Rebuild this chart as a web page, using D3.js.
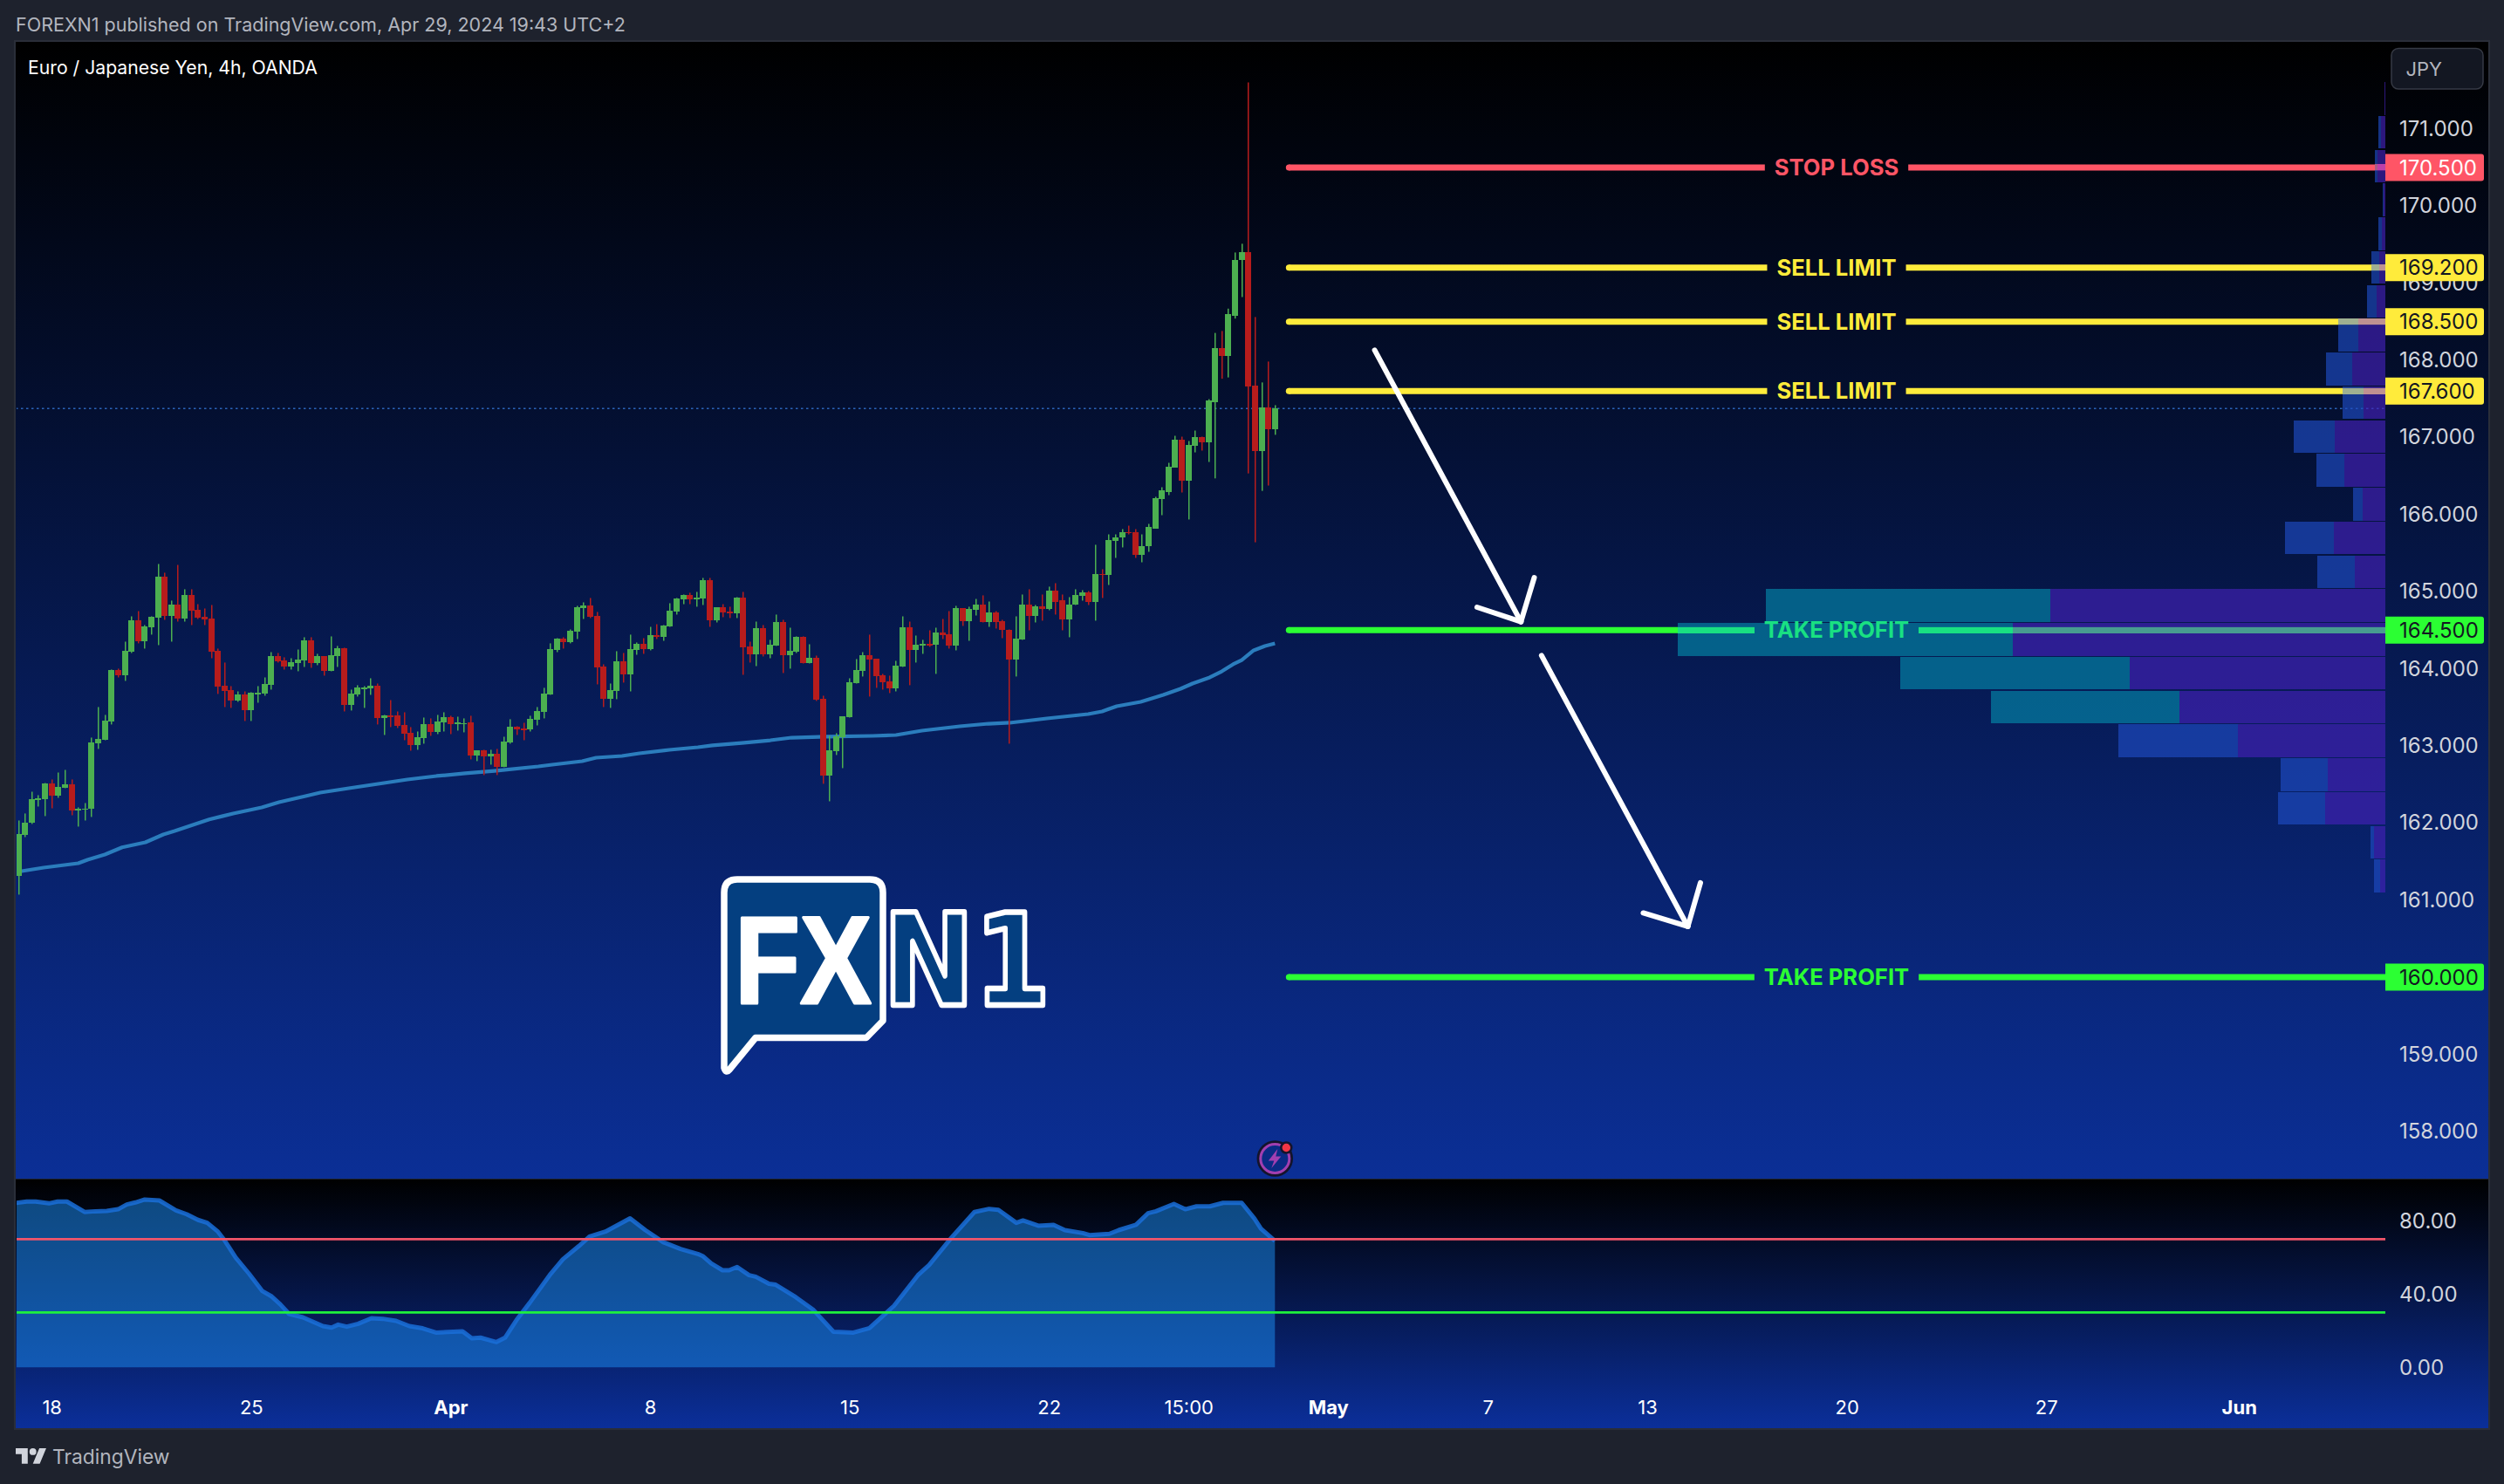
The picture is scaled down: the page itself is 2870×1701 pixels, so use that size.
<!DOCTYPE html>
<html><head><meta charset="utf-8">
<script src="https://cdn.jsdelivr.net/npm/d3@7/dist/d3.min.js"></script>
<style>html,body{margin:0;padding:0;background:#1e222d}svg{display:block}text{font-family:Inter,"Noto Sans",sans-serif}</style>
</head><body><svg id="c" width="2870" height="1701"></svg>
<script>
const opens=[161.312,161.840,161.998,162.307,162.304,162.507,162.349,162.451,162.496,162.157,
162.168,162.180,163.028,163.073,163.311,163.978,163.910,164.215,164.623,164.351,
164.532,164.657,165.199,164.679,164.837,164.645,164.951,164.758,164.668,164.645,
164.227,163.774,163.718,163.582,163.661,163.458,163.673,163.673,163.786,164.159,
164.102,164.023,164.068,164.102,164.362,164.068,164.159,163.967,164.159,164.261,
163.526,163.661,163.740,163.740,163.774,163.356,163.390,163.390,163.265,163.164,
163.005,163.096,163.277,163.175,163.299,163.367,163.277,163.288,163.299,162.870,
162.937,162.858,162.892,162.723,163.039,163.243,163.220,163.209,163.333,163.435,
163.661,164.238,164.385,164.340,164.476,164.781,164.815,164.679,164.023,163.605,
163.706,164.091,163.921,164.238,164.317,164.249,164.430,164.408,164.543,164.736,
164.894,164.951,164.905,164.905,165.143,164.623,164.792,164.736,164.713,164.917,
164.283,164.181,164.521,164.181,164.295,164.600,164.170,164.215,164.408,164.068,
164.136,163.605,162.609,162.926,163.107,163.367,163.808,163.967,164.170,164.125,
163.910,163.831,163.740,164.023,164.532,164.238,164.295,164.317,164.306,164.464,
164.442,164.295,164.781,164.611,164.758,164.826,164.600,164.724,164.611,164.509,
164.114,164.374,164.826,164.679,164.804,164.770,165.018,164.883,164.634,164.826,
164.939,164.985,164.871,165.233,165.211,165.652,165.697,165.776,165.765,165.471,
165.584,165.821,166.195,166.296,166.613,166.975,166.443,166.885,167.009,166.941,
167.461,168.152,168.051,168.581,169.296,169.397,167.676,166.827,167.393,167.110];
const closes=[161.851,162.009,162.304,162.315,162.507,162.349,162.462,162.496,162.157,162.179,
162.190,163.039,163.084,163.322,163.978,163.910,164.227,164.623,164.351,164.543,
164.668,165.199,164.679,164.837,164.645,164.951,164.747,164.657,164.634,164.215,
163.763,163.706,163.582,163.661,163.458,163.684,163.684,163.797,164.159,164.091,
164.023,164.080,164.114,164.362,164.068,164.159,163.967,164.170,164.261,163.526,
163.673,163.752,163.752,163.774,163.356,163.390,163.378,163.254,163.152,163.005,
163.107,163.277,163.175,163.311,163.367,163.277,163.299,163.296,162.870,162.937,
162.858,162.892,162.723,163.050,163.243,163.209,163.209,163.345,163.446,163.673,
164.249,164.385,164.340,164.487,164.792,164.815,164.668,164.012,163.605,163.718,
164.091,163.921,164.249,164.317,164.249,164.430,164.419,164.555,164.747,164.905,
164.951,164.894,164.917,165.143,164.623,164.792,164.724,164.724,164.917,164.272,
164.181,164.521,164.181,164.306,164.600,164.170,164.227,164.408,164.068,164.136,
163.593,162.609,162.937,163.118,163.378,163.820,163.978,164.170,164.114,163.899,
163.820,163.740,164.034,164.532,164.238,164.306,164.317,164.306,164.464,164.430,
164.295,164.781,164.611,164.770,164.826,164.600,164.724,164.600,164.498,164.114,
164.385,164.826,164.679,164.804,164.770,165.018,164.871,164.634,164.837,164.951,
164.985,164.871,165.233,165.211,165.663,165.708,165.776,165.754,165.471,165.595,
165.833,166.206,166.308,166.624,166.975,166.443,166.896,167.009,166.941,167.473,
168.152,168.051,168.593,169.304,169.397,167.663,166.827,167.393,167.110,167.373];
const highs=[162.032,162.123,162.405,162.360,162.518,162.564,162.654,162.688,162.564,162.202,
162.258,163.107,163.503,163.401,163.989,164.001,164.351,164.679,164.747,164.566,
164.679,165.358,165.245,164.883,165.346,165.030,165.030,164.837,164.781,164.826,
164.261,164.080,163.774,163.706,163.706,163.695,163.774,163.887,164.215,164.204,
164.148,164.136,164.249,164.408,164.408,164.193,164.159,164.419,164.295,164.272,
163.729,163.786,163.774,163.876,163.808,163.401,163.593,163.446,163.435,163.243,
163.186,163.367,163.356,163.401,163.435,163.390,163.378,163.356,163.390,162.937,
162.949,162.949,162.960,163.118,163.345,163.254,163.299,163.390,163.503,163.752,
164.329,164.396,164.408,164.509,164.815,164.860,164.917,164.736,164.057,163.808,
164.227,164.204,164.442,164.340,164.396,164.543,164.577,164.566,164.849,164.917,
164.962,164.985,164.996,165.177,165.177,164.792,164.837,164.804,164.928,164.996,
164.351,164.611,164.566,164.374,164.702,164.634,164.532,164.419,164.419,164.317,
164.170,163.650,163.130,163.164,163.378,163.876,164.125,164.215,164.442,164.125,
163.933,163.910,164.102,164.679,164.611,164.430,164.374,164.498,164.532,164.645,
164.747,164.815,164.781,164.804,164.905,164.951,164.871,164.747,164.634,164.509,
164.679,164.962,165.030,164.826,164.962,165.064,165.109,164.962,164.928,165.030,
165.018,165.007,165.607,165.290,165.742,165.742,165.810,165.855,165.810,165.742,
165.878,166.229,166.353,166.670,167.020,167.009,166.952,167.088,167.009,167.495,
168.354,168.379,168.669,169.397,169.510,171.602,168.560,167.712,167.983,167.417];
const lows=[161.071,161.817,161.987,162.213,162.089,162.190,162.326,162.451,162.100,161.953,
162.032,162.078,162.960,163.073,163.277,163.887,163.842,164.204,164.329,164.261,
164.442,164.306,164.634,164.351,164.611,164.611,164.566,164.645,164.566,164.136,
163.673,163.503,163.492,163.571,163.322,163.322,163.559,163.650,163.729,164.080,
163.989,163.989,163.967,164.023,164.012,164.046,163.910,163.967,164.023,163.446,
163.458,163.639,163.492,163.661,163.277,163.141,163.243,163.231,163.073,162.937,
162.949,163.028,163.130,163.152,163.186,163.152,163.198,163.175,162.824,162.802,
162.621,162.756,162.621,162.723,163.028,163.141,163.073,163.186,163.265,163.356,
163.661,164.215,164.261,164.329,164.385,164.645,164.657,163.797,163.503,163.492,
163.605,163.820,163.706,164.181,164.193,164.238,164.385,164.362,164.543,164.702,
164.837,164.837,164.804,164.826,164.543,164.600,164.668,164.657,164.657,163.921,
164.080,164.034,164.159,164.136,164.295,163.944,164.001,164.204,164.068,164.068,
163.582,162.508,162.281,162.881,162.711,163.367,163.808,163.899,163.639,163.752,
163.729,163.684,163.706,164.023,163.786,164.080,164.193,164.283,163.933,164.385,
164.261,164.238,164.555,164.362,164.690,164.600,164.543,164.521,164.396,163.028,
163.899,164.374,164.498,164.600,164.623,164.758,164.702,164.498,164.408,164.826,
164.883,164.826,164.623,164.917,165.086,165.437,165.573,165.742,165.437,165.380,
165.516,165.821,165.991,166.251,166.613,166.285,165.935,166.805,166.828,166.681,
166.468,167.760,167.777,168.540,168.819,166.532,165.639,166.306,166.375,167.033];
const emaBars=[-0.4,0.5,3.8,9,10.4,13,15.6,19.1,21.8,23.5,28.7,32.3,36.6,39.2,40.9,43.2,45.4,49.7,54.1,58.5,62.9,67.2,71.6,78.2,80.3,84.8,86.9,90.8,93.4,97.9,102.2,104.4,108.8,113.1,116.3,121.5,128.5,132,135.9,141.6,145.9,149.1,154.7,160.9,163,165.2,168.8,172.2,174.8,176.6,179.2,181,182.7,184,185.8,187.5,189];
const emaValues=[161.365,161.376,161.421,161.477,161.523,161.590,161.684,161.749,161.851,161.896,162.046,162.122,162.201,162.269,162.303,162.348,162.394,162.450,162.507,162.563,162.609,162.643,162.676,162.733,162.756,162.801,162.846,162.869,162.903,162.948,162.982,163.005,163.038,163.072,163.106,163.118,163.129,163.140,163.197,163.253,163.287,163.299,163.355,163.412,163.446,163.514,163.570,163.661,163.740,163.808,163.887,163.966,164.057,164.113,164.238,164.294,164.328];
const rsiBars=[-0.36,1.25,2.6,4.6,5.9,7.3,9.95,11.6,13.3,15,16.3,17.6,19,21.2,23.7,25.3,27,28.4,30,31,32.7,34.7,36.7,38.1,39.4,40.7,42.8,45.8,47.1,48.1,49.4,51.1,53.1,54.8,56.8,58.8,60.8,62.8,66.8,68.2,69.5,71.9,73.2,74.9,76.9,79.9,81.9,84.3,85.9,88.3,92,94.3,97,99.6,102.2,103,104.2,105.9,106.9,108.1,109.9,110.9,112.9,113.9,116.9,119.6,122.6,125.6,128,131.7,135.3,137,140.4,143.8,146,147.4,150.1,151.1,153.4,155.7,157.4,160.1,161.1,164.1,165.5,168.1,169.9,171.1,173.8,175.5,177.2,179.2,181.2,184,185.9,186.9,189];
const rsiValues=[89.7,90.5,90.5,89.5,90.5,90.5,84.8,85.2,85.4,86.3,88.9,90,91.6,91.1,85.7,83.6,80.5,78.9,74.1,69.4,59.8,51.1,41.6,38.7,34.4,29.2,27.3,22.5,21.7,23.3,22.2,23.8,26.8,26.5,25.4,22.5,21.3,19,19.7,15.9,16.2,13.8,16.2,25.7,35.2,50.3,59,66.2,71.4,74.1,81.3,74.9,68.3,64.6,61.9,60.6,56.7,53,53,54.8,50.3,49.5,45.6,45.1,38.4,31.3,19.4,19,21.4,33.6,50.3,55.9,71,84.8,86.5,86,78.9,80.2,77.3,77.8,74.9,73.3,72.2,72.9,74.9,77.8,84.1,85.2,89.2,86.3,87.9,87.9,89.8,89.8,81.3,75.7,69];
const volumeTotal=[1,8,12,3,8,16,21,54,68,49,105,79,37,115,78,710,811,556,452,306,120,123,17,13];
const volumeDown=[1,5,9,2,4,7,10,31,38,25,58,47,26,59,35,384,427,293,236,169,66,69,13,6];
const valueAreaRows=[15,16,17,18];
const volumeTopPrice=171.606, volumeRowStep=0.4383;
const levelPrices=[170.5,169.2,168.5,167.6,164.5,160];
const levelNames=["STOP LOSS","SELL LIMIT","SELL LIMIT","SELL LIMIT","TAKE PROFIT","TAKE PROFIT"];
const levelLabels=["170.500","169.200","168.500","167.600","164.500","160.000"];
const priceTicks=[171,170,169,168,167,166,165,164,163,162,161,160,159,158];
const rsiTicks=[80,40,0];
const rsiBands=[70,30];
const timeBars=[5,35,65,95,125,155,176,197,221,245,275,305,334];
const timeLabels=["18","25","Apr","8","15","22","15:00","May","7","13","20","27","Jun"];
const timeMajor=["Apr","May","Jun"];
const arrowBars=[[204,226],[226,219.4],[226,228],[229.1,251.1],[251.1,244.4],[251.1,253]];
const arrowPrices=[[168.125,164.604],[164.604,164.792],[164.604,165.176],[164.165,160.652],[160.652,160.827],[160.652,161.219]];
const levelStartBar=191.1;

const W=2870,H=1701,chartL=18,chartR=2852,chartT=48,paneB=1351,chartB=1637,axisX=2734;
const xBar=d3.scaleLinear().domain([0,189]).range([21.09,1461.3]);
const yPrice=d3.scaleLinear().domain([171,160]).range([147.7,1120.1]);
const yRsi=d3.scaleLinear().domain([0,100]).range([1567.3,1357.3]);
const xVol=d3.scaleLinear().domain([0,100]).range([0,100]);
const rows=volumeTotal.map((t,k)=>({k,t,d:volumeDown[k]}));
const svg=d3.select("#c"), defs=svg.append("defs");
function grad(id,y1,y2,stops){const g=defs.append("linearGradient").attr("id",id).attr("gradientUnits","userSpaceOnUse").attr("x1",0).attr("x2",0).attr("y1",y1).attr("y2",y2);stops.forEach(s=>g.append("stop").attr("offset",s[0]).attr("stop-color",s[1]));}
grad("mainBg",chartT,paneB,[[0,"#000000"],[1,"#0b2f96"]]);
grad("subBg",paneB,chartB,[[0,"#000000"],[1,"#0b2f9a"]]);
defs.append("clipPath").attr("id","plot").append("rect").attr("x",chartL+1).attr("y",chartT).attr("width",axisX-chartL-1).attr("height",paneB-chartT);
defs.append("clipPath").attr("id","plot2").append("rect").attr("x",chartL+1).attr("y",paneB).attr("width",axisX-chartL-1).attr("height",chartB-paneB);

svg.append("rect").attr("width",W).attr("height",H).attr("fill","#1e222d");
svg.append("text").attr("x",18).attr("y",36).attr("font-size",21.5).attr("fill","#b2b5be").text("FOREXN1 published on TradingView.com, Apr 29, 2024 19:43 UTC+2");
svg.append("rect").attr("x",chartL-1).attr("y",chartT-1).attr("width",chartR-chartL+2).attr("height",chartB-chartT+2).attr("fill","none").attr("stroke","#2a2e39").attr("stroke-width",2);
svg.append("rect").attr("x",chartL).attr("y",chartT).attr("width",chartR-chartL).attr("height",paneB-chartT).attr("fill","url(#mainBg)");
svg.append("rect").attr("x",chartL).attr("y",paneB).attr("width",chartR-chartL).attr("height",chartB-paneB).attr("fill","url(#subBg)");
svg.append("line").attr("x1",chartL).attr("x2",chartR).attr("y1",paneB+.5).attr("y2",paneB+.5).attr("stroke","#1e222d").attr("stroke-width",1);
svg.append("text").attr("x",32).attr("y",85).attr("font-size",21.2).attr("fill","#ffffff").text("Euro / Japanese Yen, 4h, OANDA");

const plot=svg.append("g").attr("clip-path","url(#plot)");
const lastClose=closes[closes.length-1];
plot.append("line").attr("x1",chartL).attr("x2",axisX).attr("y1",yPrice(lastClose)).attr("y2",yPrice(lastClose)).attr("stroke","#2b63b8").attr("stroke-width",1.5).attr("stroke-dasharray","2.5 3.5");
// EMA
plot.append("path").datum(emaBars.map((b,i)=>[b,emaValues[i]])).attr("fill","none").attr("stroke","#2b7dbd").attr("stroke-width",4.2).attr("stroke-linejoin","round")
  .attr("d",d3.line().x(d=>xBar(d[0])).y(d=>yPrice(d[1])));
// candles
const idx=d3.range(opens.length);
const col=i=>closes[i]>=opens[i]?"#4caf50":"#b71c1c";
plot.append("g").selectAll(".w").data(idx).join("rect").attr("class","w").attr("x",i=>Math.round(xBar(i)-.5)).attr("width",1.5).attr("y",i=>yPrice(highs[i])).attr("height",i=>yPrice(lows[i])-yPrice(highs[i])).attr("fill",col);
const cg=plot.append("g").attr("shape-rendering","crispEdges");
cg.selectAll(".b").data(idx).join("rect").attr("class","b").attr("x",i=>Math.round(xBar(i)-3.5)).attr("width",7)
  .attr("y",i=>yPrice(Math.max(opens[i],closes[i]))).attr("height",i=>Math.max(1.5,Math.abs(yPrice(opens[i])-yPrice(closes[i])))).attr("fill",col);

// level lines
const lineColor=["#ff5566","#ffeb3b","#ffeb3b","#ffeb3b","#2bff33","#2bff33"];
const textColor=["#ff5566","#ffeb3b","#ffeb3b","#ffeb3b","#19e082","#2bff33"];
const overBlue=["#a85a85","#9fb091","#9fb091","#9fb091","#19e082","#2bff33"];
const overPurple=["#bd3fa9","#bf9191","#bf9191","#bf9191","#479c90","#2bff33"];
const lineW=7,textCx=2105,gapPad=11,startX=xBar(levelStartBar);
const gaps=[];
const levelG=plot.append("g");
levelPrices.forEach((p,i)=>{
  const y=yPrice(p);
  const t=svg.append("text").attr("class","lvl").attr("x",textCx).attr("y",y+9).attr("text-anchor","middle").attr("font-size",25.6).attr("font-weight",700).attr("fill",textColor[i]).text(levelNames[i]);
  const w=t.node().getComputedTextLength();
  const gl=textCx-w/2-gapPad, gr=textCx+w/2+gapPad; gaps.push([gl,gr]);
  levelG.append("line").attr("x1",startX).attr("x2",startX).attr("y1",y).attr("y2",y).attr("stroke",lineColor[i]).attr("stroke-width",lineW).attr("stroke-linecap","round");
  levelG.append("line").attr("x1",startX).attr("x2",gl).attr("y1",y).attr("y2",y).attr("stroke",lineColor[i]).attr("stroke-width",lineW);
  levelG.append("line").attr("x1",gr).attr("x2",axisX).attr("y1",y).attr("y2",y).attr("stroke",lineColor[i]).attr("stroke-width",lineW);
});
// volume profile
const rowTop=k=>yPrice(volumeTopPrice-k*volumeRowStep);
const isVA=k=>valueAreaRows.includes(k);
const vg=plot.append("g").attr("shape-rendering","crispEdges");
vg.selectAll(".vt").data(rows).join("rect").attr("x",d=>axisX-xVol(d.t)).attr("width",d=>xVol(d.t-d.d)).attr("y",d=>rowTop(d.k)).attr("height",d=>rowTop(d.k+1)-rowTop(d.k)-1.2)
  .attr("fill",d=>isVA(d.k)?"rgb(4,133,167)":"rgb(30,75,193)").attr("fill-opacity",.67);
vg.selectAll(".vd").data(rows).join("rect").attr("x",d=>axisX-xVol(d.d)).attr("width",d=>xVol(d.d)).attr("y",d=>rowTop(d.k)).attr("height",d=>rowTop(d.k+1)-rowTop(d.k)-1.2)
  .attr("fill","rgb(66,33,180)").attr("fill-opacity",.67);
// level lines seen through the profile
levelPrices.forEach((p,i)=>{
  const k=Math.floor((volumeTopPrice-p)/volumeRowStep); if(k<0||k>=rows.length) return;
  const r=rows[k], y=yPrice(p), top=Math.max(y-lineW/2,rowTop(k)), bot=Math.min(y+lineW/2,rowTop(k+1)-1.2);
  const split=axisX-xVol(r.d), left=axisX-xVol(r.t);
  [[left,split,overBlue[i]],[split,axisX,overPurple[i]]].forEach(seg=>{
    [[startX,gaps[i][0]],[gaps[i][1],axisX]].forEach(part=>{
      const a=Math.max(seg[0],part[0]), b=Math.min(seg[1],part[1]);
      if(b>a) vg.append("rect").attr("x",a).attr("width",b-a).attr("y",top).attr("height",bot-top).attr("fill",seg[2]);
    });
  });
});
svg.selectAll("text.lvl").raise();
// arrows
plot.append("g").selectAll("line").data(arrowBars.map((b,i)=>({b,p:arrowPrices[i]}))).join("line")
  .attr("x1",d=>xBar(d.b[0])).attr("x2",d=>xBar(d.b[1])).attr("y1",d=>yPrice(d.p[0])-.5).attr("y2",d=>yPrice(d.p[1])-.5)
  .attr("stroke","#ffffff").attr("stroke-width",6).attr("stroke-linecap","round");

// price axis
const fontAxis=24;
const pa=svg.append("g").attr("transform",`translate(${axisX},0)`).call(d3.axisRight(yPrice).tickValues(priceTicks).tickSize(0).tickPadding(16).tickFormat(d3.format(".3f")));
pa.select(".domain").remove();
pa.selectAll("text").style("font-family","Inter").attr("font-size",fontAxis).attr("fill","#d1d4dc");
const labelTxt=["#ffffff","#131722","#131722","#131722","#131722","#131722"];
const lb=svg.append("g").selectAll("g").data(levelPrices).join("g").attr("transform",d=>`translate(${axisX},${yPrice(d)})`);
lb.append("path").attr("d","M0,-15.5H110a3,3 0 0 1 3,3V12.5a3,3 0 0 1 -3,3H0Z").attr("fill",(d,i)=>lineColor[i]);
lb.append("text").attr("x",16).attr("y",8.6).attr("font-size",fontAxis).attr("fill",(d,i)=>labelTxt[i]).text((d,i)=>levelLabels[i]);
// JPY button
svg.append("rect").attr("x",2741).attr("y",55.5).attr("width",105).attr("height",46.5).attr("rx",8).attr("fill","#131722").attr("stroke","#363a45").attr("stroke-width",1.5);
svg.append("text").attr("x",2757.5).attr("y",87).attr("font-size",22).attr("fill","#b2b5be").text("JPY");

// logo
const logo=svg.append("g");
logo.append("path").attr("d","M845,1008H997Q1012,1008 1012,1023V1170L993,1189.5H866L836,1226Q832,1231 830,1224V1023Q830,1008 845,1008Z").attr("fill","#043f80").attr("stroke","#ffffff").attr("stroke-width",7.5).attr("stroke-linejoin","round");
logo.append("text").attr("x",842).attr("y",1150).style("font-family","Liberation Sans").attr("font-weight",700).attr("font-size",142).attr("fill","#ffffff").attr("stroke","#ffffff").attr("stroke-width",3).attr("stroke-linejoin","round").attr("textLength",157).attr("lengthAdjust","spacingAndGlyphs").text("FX");
logo.append("text").attr("x",1012).attr("y",1151.7).style("font-family","DejaVu Sans").attr("font-weight",700).attr("font-size",146).attr("fill","#043f80").attr("stroke","#ffffff").attr("stroke-width",6.5).attr("stroke-linejoin","round").attr("textLength",192).attr("lengthAdjust","spacingAndGlyphs").text("N1");

// event icon
const ic=svg.append("g").attr("transform",`translate(${xBar(189)},1328)`);
ic.append("circle").attr("r",19).attr("fill","none").attr("stroke","#14142c").attr("stroke-width",3.5);
ic.append("circle").attr("r",16.5).attr("fill","#0b2a85").attr("stroke","#a13fb0").attr("stroke-width",3);
ic.append("path").attr("d","M3,-11L-7.5,2.5H-1L-4,11L7,-2.5H1Z").attr("fill","#a13fb0");
ic.append("circle").attr("cx",13).attr("cy",-12.5).attr("r",6).attr("fill","#f23645").attr("stroke","#14142c").attr("stroke-width",2.5);

// RSI pane
const plot2=svg.append("g").attr("clip-path","url(#plot2)");
const rsiPts=rsiBars.map((b,i)=>[b,rsiValues[i]]);
plot2.append("path").datum(rsiPts).attr("fill","rgb(27,144,245)").attr("fill-opacity",.5).attr("d",d3.area().x(d=>xBar(d[0])).y0(yRsi(0)).y1(d=>yRsi(d[1])));
plot2.append("path").datum(rsiPts).attr("fill","none").attr("stroke","#1a6fd8").attr("stroke-opacity",.85).attr("stroke-width",5).attr("stroke-linejoin","round").attr("d",d3.line().x(d=>xBar(d[0])).y(d=>yRsi(d[1])));
const bandColor=["#f2556a","#1ef03c"];
plot2.selectAll(".band").data(rsiBands).join("line").attr("x1",chartL).attr("x2",axisX).attr("y1",d=>yRsi(d)).attr("y2",d=>yRsi(d)).attr("stroke",(d,i)=>bandColor[i]).attr("stroke-width",2.7);
const ra=svg.append("g").attr("transform",`translate(${axisX},1)`).call(d3.axisRight(yRsi).tickValues(rsiTicks).tickSize(0).tickPadding(16).tickFormat(d3.format(".2f")));
ra.select(".domain").remove();
ra.selectAll("text").style("font-family","Inter").attr("font-size",fontAxis).attr("fill","#d1d4dc");

// time axis
const ta=svg.append("g").attr("transform","translate(0,1597.5)").call(d3.axisBottom(xBar).tickValues(timeBars).tickSize(0).tickPadding(8).tickFormat((d,i)=>timeLabels[i]));
ta.select(".domain").remove();
ta.selectAll("text").style("font-family","Inter").attr("font-size",22).attr("fill","#ffffff").attr("font-weight",(d,i)=>timeMajor.includes(timeLabels[i])?700:400);

// footer
const tv=svg.append("g").attr("transform","translate(18,1656) scale(.985)").attr("fill","#d1d4dc");
tv.append("path").attr("d","M14 22H7V11H0V4h14v18zM28 22h-8l7.5-18h8L28 22z");
tv.append("circle").attr("cx",20).attr("cy",8).attr("r",4);
svg.append("text").attr("x",60).attr("y",1678).attr("font-size",22.8).attr("fill","#b2b5be").text("TradingView");
</script></body></html>
